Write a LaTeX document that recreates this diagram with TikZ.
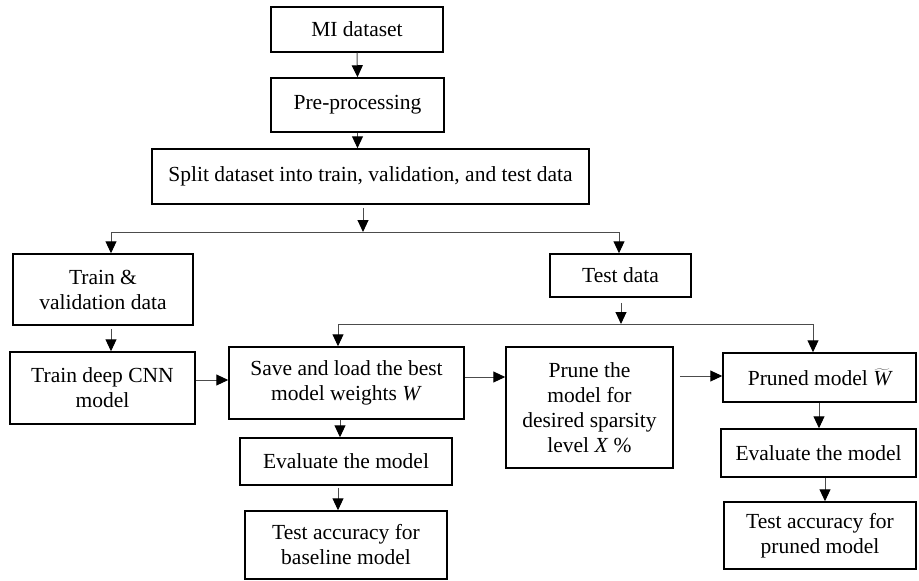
\documentclass[tikz,border=0pt]{standalone}
\usepackage{fontspec}
\setmainfont{Liberation Serif}
\usetikzlibrary{arrows.meta,calc}
\begin{document}
\begin{tikzpicture}[x=1pt,y=-1pt,
  box/.style={draw=black, line width=1.5pt, inner sep=0pt, align=center, font=\fontsize{21.5}{25}\selectfont},
  conn/.style={draw=black!70, line width=1pt},
  arr/.style={conn, -{Triangle[length=12pt,width=11pt,color=black]}},
]
\useasboundingbox (0,0) rectangle (919,581);

\node[box, minimum width=172pt, minimum height=45pt] (mi) at (357,29.5) {MI dataset};
\node[box, minimum width=173pt, minimum height=54pt] (pre) at (357.5,105) {Pre-processing};
\node[box, minimum width=437pt, minimum height=55pt] (split) at (370.5,176.5) {Split dataset into train, validation, and test data};
\node[box, minimum width=180pt, minimum height=71pt] (trainval) at (103,289.5) {Train \&\\validation data};
\node[box, minimum width=141pt, minimum height=43pt] (testdata) at (620.5,275.5) {Test data};
\node[box, minimum width=185pt, minimum height=72pt] (cnn) at (102.5,388) {Train deep CNN\\model};
\node[box, minimum width=235pt, minimum height=72pt] (save) at (346.5,383) {Save and load the best\\model weights \textit{W}};
\node[box, minimum width=167pt, minimum height=121pt] (prune) at (589.5,407.5) {Prune the\\model for\\desired sparsity\\level \textit{X} \%};
\node[box, minimum width=193pt, minimum height=49pt] (pruned) at (819.5,377.5) {Pruned model $\widetilde{\mathit{W}}$};
\node[box, minimum width=212pt, minimum height=47pt] (eval1) at (346,461.5) {Evaluate the model};
\node[box, minimum width=202pt, minimum height=68pt] (acc1) at (346,545) {Test accuracy for\\baseline model};
\node[box, minimum width=195pt, minimum height=48pt] (eval2) at (818.5,453) {Evaluate the model};
\node[box, minimum width=192pt, minimum height=67pt] (acc2) at (820,535.5) {Test accuracy for\\pruned model};

% first split
\coordinate (j1) at (363,232);
\coordinate (jl) at (111,232);
\coordinate (jr) at (619,232);
\draw[arr] (mi.south) -- (pre.north);
\draw[arr] (pre.south) -- (pre.south |- split.north);
\draw[arr] ($(j1 |- split.south)+(0,3)$) -- (j1);
\draw[conn] (jl) -- (jr);
\draw[arr] (jl) -- (jl |- trainval.north);
\draw[arr] (jr) -- (jr |- testdata.north);
\draw[arr] ($(jl |- trainval.south)+(0,3)$) -- (jl |- cnn.north);

% cnn -> save
\coordinate (r1) at (0,380);
\draw[arr] (cnn.east |- r1) -- (save.west |- r1);

% second split
\coordinate (j2) at (621,324);
\coordinate (j2l) at (338,324);
\coordinate (j2r) at (813,324);
\draw[arr] ($(j2 |- testdata.south)+(0,5)$) -- (j2);
\draw[conn] (j2l) -- (j2r);
\draw[arr] (j2l) -- (j2l |- save.north);
\draw[arr] (j2r) -- (j2r |- pruned.north);

% baseline column
\coordinate (c1) at (340,0);
\draw[arr] (c1 |- save.south) -- (c1 |- eval1.north);
\draw[arr] ($(j2l |- eval1.south)+(0,2)$) -- (j2l |- acc1.north);

% prune path
\coordinate (r2) at (0,377);
\coordinate (r3) at (0,376);
\draw[arr] (save.east |- r2) -- (prune.west |- r2);
\draw[arr] ($(prune.east |- r3)+(6,0)$) -- (pruned.west |- r3);

% pruned column
\coordinate (c2) at (819,0);
\coordinate (c3) at (825,0);
\draw[arr] (c2 |- pruned.south) -- (c2 |- eval2.north);
\draw[arr] (c3 |- eval2.south) -- (c3 |- acc2.north);
\end{tikzpicture}
\end{document}
